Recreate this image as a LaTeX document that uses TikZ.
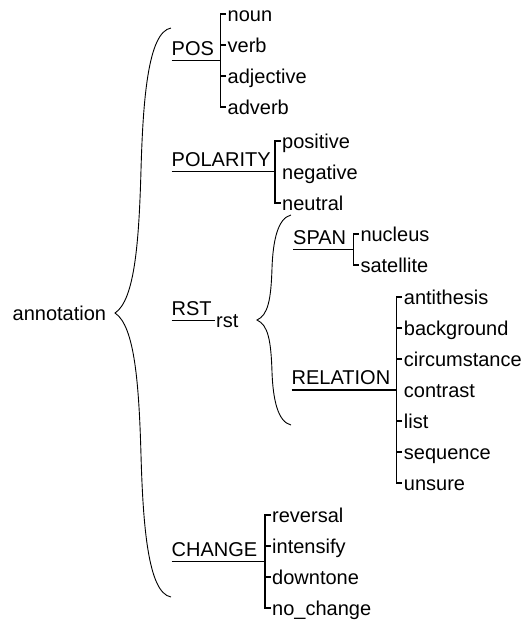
\documentclass[tikz,border=0pt]{standalone}
\usepackage{fontspec}
\setmainfont{Liberation Sans}
\usetikzlibrary{positioning}

\begin{document}
\begin{tikzpicture}[
        x=1pt, y=-1pt,
        node distance=31pt,
        cat/.style={
            anchor=south west,
            inner sep=0pt,
            text depth=5pt,
            font=\fontsize{20}{24}\selectfont
        },
        leaf/.style={
            anchor=west,
            inner xsep=1.5pt,
            inner ysep=0pt,
            text height=14pt,
            text depth=0pt,
            font=\fontsize{20}{24}\selectfont
        },
        nextto/.style={
            leaf,
            below=of #1.west,
            anchor=west
        },
        branch/.style={
            line width=1.2pt
        },
        curly/.style={
            line width=0.9pt
        }
    ]

    \useasboundingbox (0,0) rectangle (525,622);

    \node[leaf] (annotation) at (11,313) {annotation};

    % categories
    \node[cat] (pos) at (171.5,60.5) {POS};
    \node[cat] (polarity) at (171.5,171.5) {POLARITY};
    \node[cat] (rstcat) at (171.5,320.5) {RST};
    \node[cat] (span) at (293,249.5) {SPAN};
    \node[cat] (relation) at (291.5,390) {RELATION};
    \node[cat] (change) at (171.5,561.5) {CHANGE};

    \coordinate (posj) at (220.5,60.5);
    \coordinate (polj) at (275,171.5);
    \coordinate (spanj) at (353.3,249.5);
    \coordinate (relj) at (396.7,390);
    \coordinate (chgj) at (265,561.5);

    % values
    \node[leaf] (noun) at (226,14) {noun};
    \node[nextto=noun] (verb) {verb};
    \node[nextto=verb] (adjective) {adjective};
    \node[nextto=adjective] (adverb) {adverb};

    \node[leaf] (positive) at (280.5,141) {positive};
    \node[nextto=positive] (negative) {negative};
    \node[nextto=negative] (neutral) {neutral};

    \node[leaf] (rst) at (214.5,320.5) {rst};

    \node[leaf] (nucleus) at (358.8,234) {nucleus};
    \node[nextto=nucleus] (satellite) {satellite};

    \node[leaf] (antithesis) at (402.2,297) {antithesis};
    \node[nextto=antithesis] (background) {background};
    \node[nextto=background] (circumstance) {circumstance};
    \node[nextto=circumstance] (contrast) {contrast};
    \node[nextto=contrast] (list) {list};
    \node[nextto=list] (sequence) {sequence};
    \node[nextto=sequence] (unsure) {unsure};

    \node[leaf] (reversal) at (270.5,515) {reversal};
    \node[nextto=reversal] (intensify) {intensify};
    \node[nextto=intensify] (downtone) {downtone};
    \node[nextto=downtone] (nochange) {no\_change};

    % brackets
    \draw[branch] (pos.south west) -- (posj)
        (noun.west) -| (posj) |- (adverb.west)
        (verb.west) -- (verb.west -| posj)
        (adjective.west) -- (adjective.west -| posj);
    \draw[branch] (polarity.south west) -- (polj)
        (positive.west) -| (polj) |- (neutral.west);
    \draw[branch] (rstcat.south west) -- (rst.west);
    \draw[branch] (span.south west) -- (spanj)
        (nucleus.west) -| (spanj) |- (satellite.west);
    \draw[branch] (relation.south west) -- (relj)
        (antithesis.west) -| (relj) |- (unsure.west)
        (background.west) -- (background.west -| relj)
        (circumstance.west) -- (circumstance.west -| relj)
        (list.west) -- (list.west -| relj)
        (sequence.west) -- (sequence.west -| relj);
    \draw[branch] (change.south west) -- (chgj)
        (reversal.west) -| (chgj) |- (nochange.west)
        (intensify.west) -- (intensify.west -| chgj)
        (downtone.west) -- (downtone.west -| chgj);

    % braces
    \draw[curly] (171,28) .. controls (148,32) and (143,100) .. (141,170)
        .. controls (139,240) and (135,300) .. (115,313)
        .. controls (135,326) and (139,386) .. (141,455)
        .. controls (143,525) and (148,593) .. (171,597);
    \draw[curly] (291,215) .. controls (278,218) and (273,240) .. (272,268)
        .. controls (271,300) and (268,315) .. (257,320)
        .. controls (268,325) and (271,340) .. (272,372)
        .. controls (273,400) and (278,422) .. (291,425);

\end{tikzpicture}
\end{document}
